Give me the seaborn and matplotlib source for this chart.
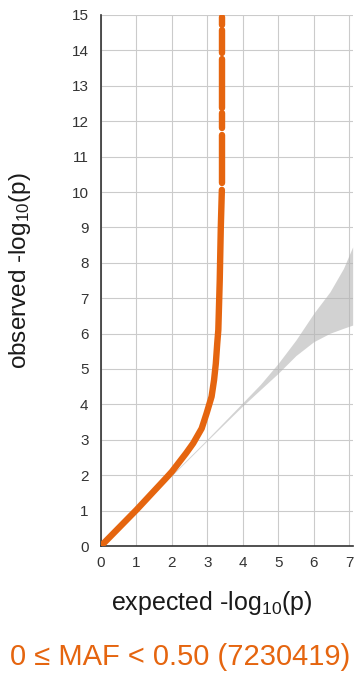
import matplotlib
matplotlib.use("Agg")
import matplotlib.pyplot as plt
import pandas as pd
import seaborn as sns

# Observed vs expected -log10(p) for the full variant set
curve_expected = [0.0, 1.0, 1.8, 2.0, 2.2, 2.4, 2.6, 2.84, 2.98, 3.12, 3.19,
                  3.24, 3.28, 3.31, 3.35, 3.38, 3.41]
curve_observed = [0.0, 1.02, 1.88, 2.1, 2.36, 2.62, 2.9, 3.32, 3.75, 4.22, 4.69,
                  5.16, 5.73, 6.1, 7.5, 9.0, 10.06]

# Sparse top of the distribution: runs of points at the last expected value
top_expected = 3.41
top_run_start = [10.25, 11.8, 12.36, 13.92, 14.72]
top_run_end = [11.61, 12.22, 13.75, 14.58, 14.95]

# 95% confidence band around the null diagonal
band_expected = [0.0, 3.0, 4.0, 4.5, 5.0, 5.5, 6.0, 6.46, 6.84, 7.1]
band_lower = [0.0, 2.98, 3.96, 4.42, 4.88, 5.38, 5.77, 6.01, 6.15, 6.24]
band_upper = [0.02, 3.02, 4.05, 4.57, 5.16, 5.82, 6.57, 7.18, 7.84, 8.45]

title_text = "0 \u2264 MAF < 0.50 (7230419)"
x_label = "expected -log$_{10}$(p)"
y_label = "observed -log$_{10}$(p)"
x_ticks = list(range(0, 8))
y_ticks = list(range(0, 16))

ORANGE = "#E5650F"

sns.set_theme(style="white")
plt.rcParams["font.family"] = ["Liberation Sans", "DejaVu Sans"]
plt.rcParams["mathtext.default"] = "regular"

fig = plt.figure(figsize=(3.58, 6.75), dpi=100)
W, H = 358, 675
left, right, top, bottom = 101, 353, 15, 546
ax = fig.add_axes([left / W, 1 - bottom / H, (right - left) / W, (bottom - top) / H])

# grid
ax.set_xticks(x_ticks)
ax.set_yticks(y_ticks)
ax.grid(True, color="#cbcbcb", linewidth=0.8)
ax.set_axisbelow(True)

# confidence band
ax.fill_between(band_expected, band_lower, band_upper, color="#b5b5b5",
                alpha=0.6, linewidth=0, zorder=2)

# observed curve plus the sparse top runs
rows = []
for e, o in zip(curve_expected, curve_observed):
    rows.append({"expected": e, "observed": o, "seg": 0})
for i, (s, t) in enumerate(zip(top_run_start, top_run_end), start=1):
    rows.append({"expected": top_expected, "observed": s, "seg": i})
    rows.append({"expected": top_expected, "observed": t, "seg": i})
df = pd.DataFrame(rows)

sns.lineplot(data=df, x="expected", y="observed", units="seg", estimator=None,
             sort=False, color=ORANGE, linewidth=4.6, solid_capstyle="round",
             solid_joinstyle="round", ax=ax, zorder=3)

ax.set_xlim(0, 7.11)
ax.set_ylim(0, 15)

for side in ("top", "right"):
    ax.spines[side].set_visible(False)
for side in ("left", "bottom"):
    ax.spines[side].set_color("#333333")
    ax.spines[side].set_linewidth(1.2)

ax.tick_params(axis="both", length=0, labelsize=11, labelcolor="#333333")
ax.tick_params(axis="y", pad=9)
ax.tick_params(axis="x", pad=7)

ax.set_xlabel(x_label, fontsize=18, color="#1a1a1a")
ax.set_ylabel(y_label, fontsize=17.5, color="#1a1a1a")
ax.xaxis.set_label_coords((212 - left) / (right - left), (bottom - 603) / (bottom - top))
ax.yaxis.set_label_coords((20 - left) / (right - left), (bottom - 271) / (bottom - top))
ax.xaxis.label.set_va("center")
ax.yaxis.label.set_va("center")

fig.text(180 / W, 1 - 657 / H, title_text, ha="center", va="center",
         fontsize=21, color=ORANGE)

fig.savefig("out.png", dpi=100)
